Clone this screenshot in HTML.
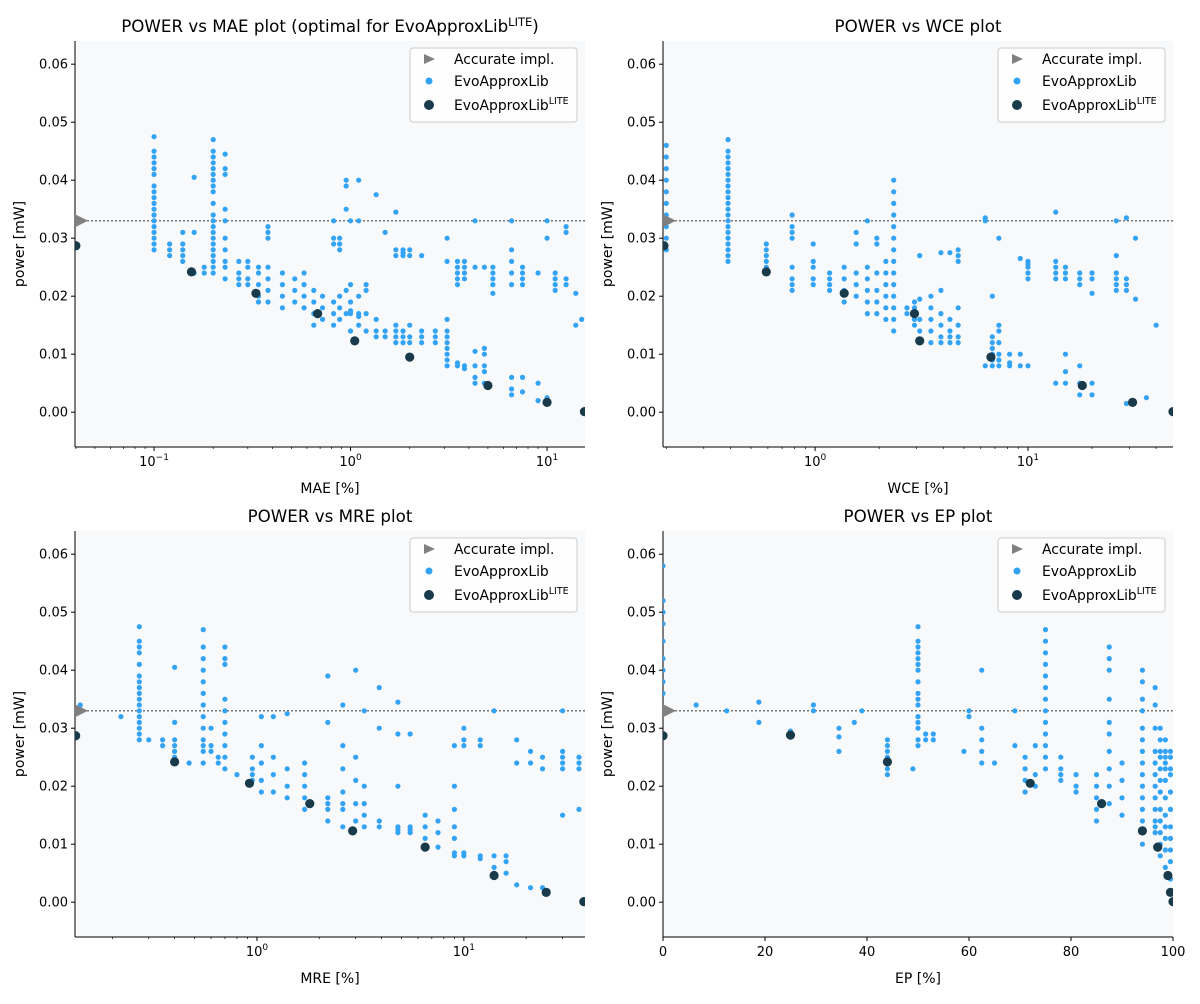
<!DOCTYPE html>
<html><head><meta charset="utf-8"><style>
body{margin:0;background:#fff;font-family:"DejaVu Sans","Liberation Sans",sans-serif;}
svg text{font-family:"DejaVu Sans","Liberation Sans",sans-serif;fill:#000;}
</style></head><body>
<svg id="chart" width="1200" height="1000" xmlns="http://www.w3.org/2000/svg"></svg>
<script>
// ---- data: columns [x, y...] per panel ----
const maeEvo = [
[0.1,0.028,0.029,0.030,0.031,0.032,0.033,0.034,0.035,0.036,0.037,0.038,0.039,0.041,0.042,0.043,0.044,0.045,0.0475],
[0.12,0.027,0.028,0.029],[0.14,0.026,0.027,0.028,0.029,0.031],[0.16,0.0405,0.024,0.031],[0.18,0.024,0.025],
[0.2,0.024,0.025,0.026,0.027,0.028,0.029,0.030,0.031,0.032,0.033,0.034,0.036,0.038,0.039,0.040,0.041,0.042,0.043,0.044,0.045,0.047],
[0.23,0.0445,0.042,0.041,0.035,0.033,0.030,0.028,0.026,0.025,0.023],[0.27,0.022,0.023,0.024,0.026],[0.3,0.022,0.023,0.025,0.026],
[0.34,0.019,0.020,0.022,0.024,0.025],[0.38,0.031,0.032,0.030,0.019,0.021,0.023,0.025],[0.45,0.018,0.020,0.022,0.024],
[0.52,0.019,0.021,0.023],[0.58,0.018,0.020,0.022,0.024],[0.65,0.015,0.017,0.019,0.021],[0.72,0.016,0.018,0.020],
[0.82,0.029,0.030,0.033,0.015,0.017,0.019],[0.88,0.028,0.029,0.030,0.016,0.018,0.020],[0.95,0.040,0.039,0.035,0.017,0.021],
[1.0,0.017,0.0175,0.014,0.022,0.033,0.019],[1.1,0.017,0.0165,0.015,0.020,0.033,0.040],[1.2,0.017,0.014,0.021,0.022],
[1.35,0.013,0.014,0.016,0.0375],[1.5,0.013,0.014,0.031],[1.7,0.027,0.028,0.012,0.013,0.014,0.015,0.0345],
[1.85,0.027,0.028,0.0275,0.012,0.013,0.014],[2.0,0.027,0.028,0.012,0.013,0.015],[2.3,0.012,0.013,0.014,0.027],[2.7,0.012,0.013,0.014],
[3.1,0.008,0.009,0.010,0.011,0.012,0.013,0.014,0.016,0.026,0.030],[3.5,0.022,0.023,0.024,0.025,0.026,0.008,0.0085],
[3.8,0.023,0.024,0.025,0.026,0.008,0.0075],[4.3,0.005,0.006,0.008,0.0105,0.033,0.025],[4.8,0.005,0.007,0.008,0.010,0.011,0.025],
[5.3,0.022,0.023,0.024,0.025,0.0205],[6.6,0.003,0.004,0.006,0.022,0.024,0.026,0.028,0.033],[7.5,0.022,0.023,0.024,0.025,0.0035,0.006],
[9.0,0.024,0.005,0.002],[10,0.0025,0.033,0.030],[11,0.021,0.022,0.023,0.024],[12.5,0.022,0.023,0.031,0.032],[14,0.015,0.0205],[15,0.016]];
const maeLite = [[0.04,0.0287],[0.155,0.0242],[0.33,0.0205],[0.68,0.017],[1.05,0.0123],[2.0,0.0095],[5.0,0.0046],[10,0.0017],[15.5,0.0001]];

const wceEvo = [
[0.2,0.028,0.030,0.032,0.034,0.036,0.038,0.040,0.042,0.044,0.046],
[0.39,0.026,0.027,0.028,0.029,0.030,0.031,0.032,0.033,0.034,0.035,0.036,0.037,0.038,0.039,0.040,0.041,0.042,0.043,0.044,0.045,0.047],
[0.59,0.024,0.025,0.026,0.027,0.028,0.029],[0.78,0.021,0.022,0.023,0.025,0.030,0.031,0.032,0.034],[0.98,0.022,0.023,0.025,0.026,0.029],
[1.17,0.021,0.022,0.023,0.024],[1.37,0.019,0.021,0.023,0.025],[1.56,0.020,0.022,0.024,0.029,0.031],
[1.76,0.017,0.019,0.021,0.023,0.025,0.033],[1.95,0.017,0.019,0.021,0.024,0.029,0.030],[2.15,0.016,0.018,0.020,0.022,0.024,0.026],
[2.34,0.014,0.016,0.018,0.020,0.022,0.024,0.026,0.028,0.030,0.032,0.034,0.036,0.038,0.040],[2.7,0.018,0.017],
[2.93,0.015,0.016,0.018,0.019],[3.1,0.012,0.014,0.016,0.0195,0.027],[3.5,0.012,0.014,0.016,0.018,0.020],
[3.9,0.012,0.013,0.015,0.017,0.021,0.0275],[4.3,0.012,0.013,0.014,0.016,0.0275],[4.7,0.012,0.013,0.015,0.018,0.026,0.027,0.028],
[6.3,0.008,0.033,0.0335],[6.8,0.008,0.009,0.010,0.011,0.012,0.013,0.020],[7.3,0.008,0.009,0.010,0.012,0.014,0.015,0.030],
[8.2,0.008,0.0085,0.010],[9.2,0.008,0.010,0.0265],[10,0.008,0.0255,0.023,0.024,0.025,0.026],
[13.5,0.005,0.0345,0.026,0.023,0.024,0.025],[15,0.005,0.007,0.010,0.023,0.024,0.025],[17.5,0.003,0.005,0.008,0.022,0.023,0.024],
[20,0.0205,0.005,0.003,0.023,0.024],[26,0.021,0.022,0.023,0.024,0.027,0.033],[29,0.021,0.022,0.0335,0.0015,0.023],
[32,0.030,0.0195],[36,0.0025],[40,0.015]];
const wceLite = [[0.195,0.0287],[0.59,0.0242],[1.37,0.0205],[2.93,0.017],[3.1,0.0123],[6.7,0.0095],[18,0.0046],[31,0.0017],[48,0.0001]];

const mreEvo = [
[0.14,0.034],[0.22,0.032],
[0.27,0.028,0.029,0.030,0.031,0.032,0.033,0.034,0.035,0.036,0.037,0.038,0.039,0.041,0.043,0.044,0.045,0.0475],
[0.3,0.028],[0.35,0.027,0.028],[0.4,0.025,0.026,0.027,0.028,0.031,0.0405],[0.47,0.024],
[0.55,0.024,0.026,0.027,0.028,0.030,0.032,0.034,0.036,0.038,0.040,0.042,0.044,0.047],[0.6,0.026,0.027,0.030],[0.65,0.024,0.025],
[0.7,0.023,0.025,0.027,0.029,0.031,0.033,0.035,0.041,0.042,0.044],[0.8,0.022],[0.95,0.021,0.022,0.023,0.025],
[1.05,0.019,0.021,0.024,0.027,0.032],[1.2,0.019,0.022,0.025,0.032],[1.4,0.018,0.020,0.023,0.0325],[1.7,0.016,0.018,0.020,0.022,0.024],
[2.2,0.014,0.016,0.017,0.018,0.031,0.039],[2.6,0.013,0.016,0.017,0.019,0.023,0.027,0.034],[3.0,0.014,0.017,0.021,0.025,0.040],
[3.3,0.013,0.015,0.017,0.020,0.033],[3.9,0.013,0.014,0.037,0.030],[4.8,0.012,0.0125,0.013,0.029,0.0345,0.020],
[5.5,0.012,0.0125,0.013,0.029],[6.5,0.0095,0.011,0.013,0.015],[7.5,0.0095,0.012,0.014],
[9.0,0.008,0.0085,0.011,0.013,0.016,0.020,0.027],[10,0.008,0.0085,0.027,0.028,0.030],[12,0.008,0.0075,0.027,0.028],
[14,0.005,0.006,0.008,0.033],[16,0.005,0.007,0.008],[18,0.003,0.024,0.028],[21,0.0025,0.024,0.026],[24,0.0025,0.023,0.025],
[30,0.023,0.024,0.025,0.026,0.015,0.033],[36,0.023,0.024,0.025,0.016]];
const mreLite = [[0.133,0.0287],[0.4,0.0242],[0.92,0.0205],[1.8,0.017],[2.9,0.0123],[6.5,0.0095],[14,0.0046],[25,0.0017],[38,0.0001]];

const epEvo = [
[0,0.033,0.036,0.038,0.040,0.042,0.045,0.048,0.050,0.052,0.058],[6.5,0.034],[12.5,0.033],[18.8,0.0345,0.031],[25,0.029,0.0295],
[29.5,0.033,0.034],[34.5,0.026,0.0285,0.030],[37.5,0.031],[39,0.033],[44,0.022,0.023,0.024,0.025,0.026,0.027,0.028],[49,0.023],
[50,0.027,0.028,0.030,0.031,0.032,0.034,0.035,0.036,0.038,0.040,0.041,0.042,0.043,0.044,0.045,0.0475],[51.5,0.028,0.029],[53,0.028,0.029],
[59,0.026],[60,0.032,0.033],[62.5,0.024,0.026,0.028,0.030,0.040],[65,0.024],[69,0.033,0.027],[71,0.019,0.021,0.023,0.025],[73,0.020,0.022,0.027],
[75,0.023,0.025,0.027,0.029,0.031,0.033,0.035,0.037,0.039,0.041,0.043,0.045,0.047],[78,0.021,0.022,0.023,0.025],[81,0.019,0.020,0.022],
[85,0.014,0.016,0.018,0.020,0.022],[87.5,0.017,0.020,0.023,0.026,0.029,0.031,0.035,0.040,0.042,0.044],[90,0.015,0.018,0.021,0.024],
[94,0.010,0.012,0.014,0.016,0.018,0.020,0.022,0.024,0.026,0.028,0.030,0.033,0.035,0.038,0.040],
[96.5,0.012,0.013,0.014,0.016,0.018,0.020,0.022,0.024,0.026,0.030,0.034,0.037],
[97.5,0.008,0.010,0.012,0.014,0.016,0.019,0.021,0.023,0.025,0.026,0.028,0.030],
[98.5,0.006,0.009,0.011,0.013,0.015,0.018,0.021,0.023,0.024,0.025,0.026,0.028],
[99.5,0.004,0.007,0.009,0.011,0.013,0.016,0.019,0.022,0.023,0.025,0.026]];
const epLite = [[0,0.0287],[25,0.0288],[44,0.0242],[72,0.0205],[86,0.017],[94,0.0123],[97,0.0095],[99,0.0046],[99.5,0.0017],[100,0.0001]];

const yTicks = [0,0.01,0.02,0.03,0.04,0.05,0.06];
const accurateY = 0.033;

const NS="http://www.w3.org/2000/svg";
const svg=document.getElementById('chart');
function mk(tag,at,parent){const e=document.createElementNS(NS,tag);for(const k in at)e.setAttribute(k,at[k]);(parent||svg).appendChild(e);return e;}

function panel(cfg){
  const g=mk('g',{});
  
  
  const L=cfg.x0,R=cfg.x0+510,T=cfg.y0,B=cfg.y0+406;
  const ymin=-0.006,ymax=0.064;
  const sy=v=>B-(v-ymin)/(ymax-ymin)*(B-T);
  const sx=cfg.log?(v=>L+(Math.log10(v)-Math.log10(cfg.xmin))/(Math.log10(cfg.xmax)-Math.log10(cfg.xmin))*(R-L))
                 :(v=>L+(v-cfg.xmin)/(cfg.xmax-cfg.xmin)*(R-L));
  const bg=mk('rect',{x:L,y:T,width:R-L,height:B-T,fill:'#f8f9fa'},g);
  
  
  const clipId='c'+cfg.x0+'_'+cfg.y0;
  const cp=mk('clipPath',{id:clipId},g);mk('rect',{x:L,y:T,width:R-L,height:B-T},cp);
  yTicks.forEach(t=>{const y=sy(t);mk('line',{x1:L-4,x2:L,y1:y,y2:y,stroke:'#000'},g);
    const tx=mk('text',{x:L-7,y:y+4.5,'text-anchor':'end','font-size':13},g);tx.textContent=t.toFixed(2);
    
    });
  if(cfg.log){
    for(let d=-2;d<=2;d++)for(let m=1;m<10;m++){const v=m*Math.pow(10,d);if(v<cfg.xmin||v>cfg.xmax)continue;const x=sx(v);
      mk('line',{x1:x,x2:x,y1:B,y2:B+(m==1?4:2),stroke:'#000','stroke-width':m==1?1:0.7},g);
      if(m==1){const tx=mk('text',{x:x,y:B+19,'text-anchor':'middle','font-size':13},g);
        tx.innerHTML='10<tspan dy="-6" font-size="9">'+(d<0?'\u2212'+(-d):d)+'</tspan>';
        
        }}
  } else {
    [0,20,40,60,80,100].forEach(t=>{const x=sx(t);mk('line',{x1:x,x2:x,y1:B,y2:B+4,stroke:'#000'},g);
      const tx=mk('text',{x:x,y:B+19,'text-anchor':'middle','font-size':13},g);tx.textContent=t;
      
      });
  }
  mk('line',{x1:L,x2:L,y1:T,y2:B,stroke:'#000'},g);
  mk('line',{x1:L,x2:R,y1:B,y2:B,stroke:'#000'},g);
  const dl=mk('line',{x1:L,x2:R,y1:sy(accurateY),y2:sy(accurateY),stroke:'#777','stroke-dasharray':'2,2','stroke-width':1.5},g);
  
  
  const pg=mk('g',{'clip-path':'url(#'+clipId+')'},g);
  cfg.evo.forEach(col=>{const x=sx(col[0]);for(let i=1;i<col.length;i++){
    const c=mk('circle',{cx:x,cy:sy(col[i]),r:2.6,fill:'#33a3f5'},pg);
    
    }});
  cfg.lite.forEach(p=>{const c=mk('circle',{cx:sx(p[0]),cy:sy(p[1]),r:4.6,fill:'#183a4b'},pg);
    
    });
  const ay=sy(accurateY);
  const tri=mk('polygon',{points:(L-1)+','+(ay-7)+' '+(L+13)+','+ay+' '+(L-1)+','+(ay+7),fill:'#808080'},g);
  
  
  const tt=mk('text',{x:(L+R)/2,y:T-9,'text-anchor':'middle','font-size':16.7},g);tt.innerHTML=cfg.title;
  
  
  const xl=mk('text',{x:(L+R)/2,y:B+46,'text-anchor':'middle','font-size':14},g);xl.textContent=cfg.xlabel;
  
  
  const yl=mk('text',{x:0,y:0,'text-anchor':'middle','font-size':14,transform:'translate('+(L-51)+','+((T+B)/2)+') rotate(-90)'},g);yl.textContent='power [mW]';
  
  
  const lg=mk('g',{},g);
  
  
  const lx=R-175,ly=T+7;
  mk('rect',{x:lx,y:ly,width:167,height:74,rx:3,fill:'#fff','fill-opacity':0.85,stroke:'#ccc'},lg);
  mk('polygon',{points:(lx+14)+','+(ly+6)+' '+(lx+25)+','+(ly+11)+' '+(lx+14)+','+(ly+16),fill:'#808080'},lg);
  mk('circle',{cx:lx+19,cy:ly+33,r:3.5,fill:'#33a3f5'},lg);
  mk('circle',{cx:lx+19,cy:ly+57,r:5,fill:'#183a4b'},lg);
  const l1=mk('text',{x:lx+44,y:ly+16,'font-size':13.9},lg);l1.textContent='Accurate impl.';
  
  
  const l2=mk('text',{x:lx+44,y:ly+38,'font-size':13.9},lg);l2.textContent='EvoApproxLib';
  
  
  const l3=mk('text',{x:lx+44,y:ly+62,'font-size':13.9},lg);l3.innerHTML='EvoApproxLib<tspan dy="-6" font-size="9.5">LITE</tspan>';
  
  
}
panel({name:'panel-power-vs-mae',x0:75,y0:41,log:true,xmin:0.0396,xmax:15.6,evo:maeEvo,lite:maeLite,
  title:'POWER vs MAE plot (optimal for EvoApproxLib<tspan dy="-6" font-size="11.5">LITE</tspan><tspan dy="6">)</tspan>',xlabel:'MAE [%]'});
panel({name:'panel-power-vs-wce',x0:663,y0:41,log:true,xmin:0.193,xmax:48,evo:wceEvo,lite:wceLite,title:'POWER vs WCE plot',xlabel:'WCE [%]'});
panel({name:'panel-power-vs-mre',x0:75,y0:531,log:true,xmin:0.132,xmax:38.5,evo:mreEvo,lite:mreLite,title:'POWER vs MRE plot',xlabel:'MRE [%]'});
panel({name:'panel-power-vs-ep',x0:663,y0:531,log:false,xmin:0,xmax:100,evo:epEvo,lite:epLite,title:'POWER vs EP plot',xlabel:'EP [%]'});
</script>
</body></html>
